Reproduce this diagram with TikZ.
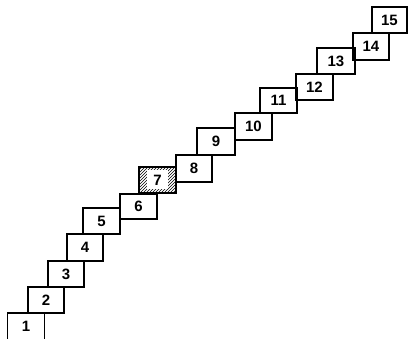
\documentclass[tikz,border=0pt]{standalone}
\usepackage{fontspec}
\setmainfont{Liberation Sans}
\usetikzlibrary{patterns}
\begin{document}
\begin{tikzpicture}[x=1pt,y=-1pt,
  boxline/.style={draw=black,line width=1.4pt},
  numfont/.style={font=\fontsize{15}{15}\selectfont\bfseries},
  stairbox/.style={boxline,inner sep=0pt,numfont}]
\useasboundingbox (0,0) rectangle (408,339);
\newcommand{\mystair}[7][stairbox]{%
  \node[#1,minimum width={#4-#3},minimum height={#6-#5}] (#2) at ({(#3+#4)/2},{(#5+#6)/2}) {#7};}
\begin{scope}
\clip (0,0) rectangle (408,339);
\node[stairbox,minimum width=37pt,minimum height=30pt,text depth=0pt] (b1) at (26,328) {\raisebox{3pt}{1}};
\end{scope}
\mystair{b2}{28}{64}{287}{313}{2}
\mystair{b3}{48}{84}{261}{287}{3}
\mystair{b4}{67}{103}{234}{261}{4}
\mystair{b5}{83}{120}{208}{234}{5}
\mystair{b6}{120}{157}{194}{219}{6}
\node[stairbox,pattern=north east lines,minimum width=37pt,minimum height=26pt] (b7) at (157.5,180) {};
\node[fill=white,inner sep=0pt,minimum width=21pt,minimum height=19pt,numfont] (l7) at (b7.center) {7};
\mystair{b8}{176}{212}{155}{182}{8}
\mystair{b9}{197}{235}{128}{155}{9}
\mystair{b10}{235}{272}{113}{140}{10}
\mystair{b11}{260}{297}{88}{113}{11}
\mystair{b12}{296}{333}{74}{100}{12}
\mystair{b13}{317}{355}{48}{74}{13}
\mystair{b14}{353}{389}{33}{60}{14}
\mystair{b15}{372}{407}{7}{33}{15}
\end{tikzpicture}
\end{document}
